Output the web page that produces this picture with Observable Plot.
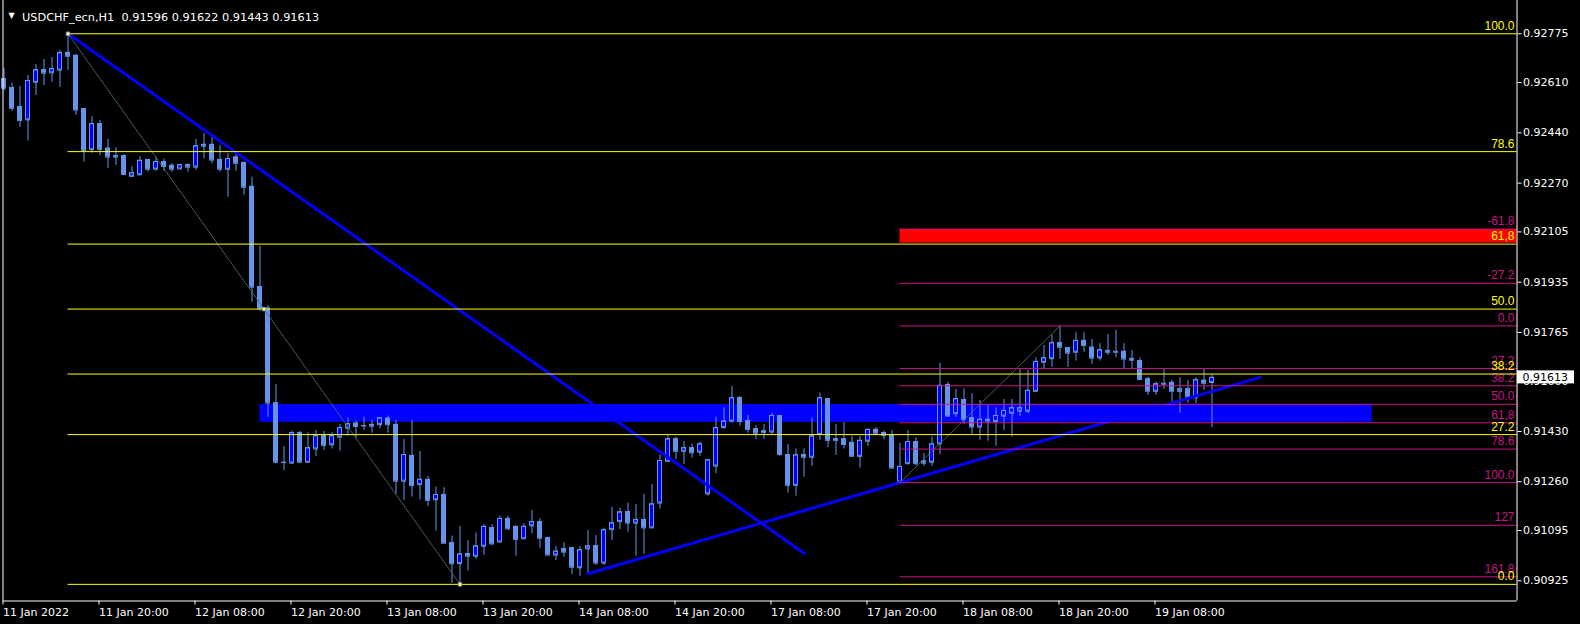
<!DOCTYPE html>
<html><head><meta charset="utf-8">
<script src="https://cdn.jsdelivr.net/npm/d3@7"></script>
<script src="https://cdn.jsdelivr.net/npm/@observablehq/plot@0.6"></script>
<style>html,body{margin:0;padding:0;background:#000;overflow:hidden}</style>
</head><body><div id="chart"></div>
<script>
const symbolName = "USDCHF_ecn,H1";
const opens = [0.92623,0.92593,0.92529,0.92484,0.92611,0.92654,0.92643,0.92652,0.92712,0.92702,
0.92522,0.92383,0.92471,0.92388,0.92363,0.92363,0.92293,0.92298,0.92350,0.92317,
0.92343,0.92330,0.92318,0.92332,0.92324,0.92401,0.92401,0.92350,0.92317,0.92358,
0.92340,0.92259,0.91920,0.91847,0.91527,0.91326,0.91323,0.91426,0.91326,0.91371,
0.91416,0.91385,0.91411,0.91441,0.91458,0.91450,0.91454,0.91453,0.91475,0.91454,
0.91262,0.91349,0.91250,0.91268,0.91199,0.91217,0.91054,0.90983,0.91017,0.91008,
0.91042,0.91105,0.91056,0.91136,0.91109,0.91067,0.91111,0.91125,0.91071,0.91012,
0.91033,0.91037,0.90969,0.91033,0.91044,0.90985,0.91098,0.91125,0.91159,0.91120,
0.91132,0.91104,0.91188,0.91329,0.91405,0.91363,0.91375,0.91360,0.91219,0.91313,
0.91443,0.91465,0.91544,0.91467,0.91439,0.91426,0.91428,0.91484,0.91352,0.91248,
0.91352,0.91343,0.91420,0.91541,0.91405,0.91405,0.91393,0.91346,0.91397,0.91437,
0.91426,0.91419,0.91259,0.91321,0.91396,0.91330,0.91326,0.91388,0.91589,0.91490,
0.91538,0.91477,0.91445,0.91471,0.91464,0.91482,0.91492,0.91499,0.91499,0.91566,
0.91664,0.91676,0.91730,0.91713,0.91698,0.91738,0.91715,0.91679,0.91704,0.91701,
0.91701,0.91677,0.91670,0.91608,0.91566,0.91593,0.91596,0.91566,0.91574,0.91544,
0.91603,0.91596];
const highs = [0.92657,0.92608,0.92597,0.92634,0.92671,0.92688,0.92695,0.92719,0.92775,0.92705,
0.92523,0.92495,0.92482,0.92418,0.92390,0.92366,0.92326,0.92360,0.92350,0.92358,
0.92351,0.92335,0.92334,0.92335,0.92418,0.92438,0.92431,0.92397,0.92370,0.92369,
0.92340,0.92290,0.92056,0.91856,0.91589,0.91379,0.91431,0.91430,0.91426,0.91433,
0.91430,0.91426,0.91454,0.91475,0.91467,0.91478,0.91467,0.91477,0.91482,0.91467,
0.91403,0.91467,0.91362,0.91278,0.91242,0.91240,0.91076,0.91109,0.91061,0.91087,
0.91115,0.91115,0.91144,0.91143,0.91110,0.91118,0.91163,0.91135,0.91072,0.91041,
0.91054,0.91037,0.91041,0.91095,0.91078,0.91103,0.91174,0.91171,0.91188,0.91183,
0.91217,0.91251,0.91350,0.91416,0.91411,0.91396,0.91388,0.91394,0.91335,0.91478,
0.91510,0.91582,0.91548,0.91484,0.91450,0.91454,0.91492,0.91485,0.91386,0.91371,
0.91371,0.91476,0.91560,0.91541,0.91454,0.91460,0.91413,0.91413,0.91439,0.91443,
0.91431,0.91433,0.91390,0.91433,0.91409,0.91355,0.91411,0.91661,0.91596,0.91572,
0.91574,0.91558,0.91535,0.91521,0.91510,0.91538,0.91538,0.91639,0.91636,0.91679,
0.91721,0.91755,0.91787,0.91713,0.91764,0.91764,0.91741,0.91727,0.91758,0.91772,
0.91727,0.91704,0.91679,0.91614,0.91597,0.91640,0.91603,0.91612,0.91603,0.91612,
0.91641,0.91622];
const lows = [0.92581,0.92513,0.92459,0.92412,0.92566,0.92600,0.92611,0.92594,0.92651,0.92499,
0.92341,0.92371,0.92363,0.92320,0.92330,0.92299,0.92290,0.92296,0.92307,0.92310,
0.92310,0.92307,0.92316,0.92307,0.92313,0.92352,0.92335,0.92307,0.92222,0.92310,
0.92229,0.91867,0.91837,0.91478,0.91321,0.91298,0.91318,0.91326,0.91323,0.91345,
0.91366,0.91371,0.91363,0.91414,0.91405,0.91433,0.91424,0.91439,0.91424,0.91217,
0.91197,0.91208,0.91199,0.91176,0.91093,0.91051,0.90916,0.90913,0.90958,0.90997,
0.91011,0.91044,0.91054,0.91095,0.91008,0.91065,0.91084,0.91035,0.91011,0.90994,
0.91005,0.90946,0.90940,0.90949,0.90977,0.90977,0.91061,0.91098,0.91089,0.91008,
0.91014,0.91103,0.91167,0.91326,0.91335,0.91318,0.91340,0.91346,0.91211,0.91287,
0.91439,0.91458,0.91448,0.91424,0.91403,0.91403,0.91420,0.91346,0.91221,0.91211,
0.91275,0.91312,0.91400,0.91375,0.91349,0.91371,0.91345,0.91306,0.91380,0.91422,
0.91402,0.91305,0.91257,0.91317,0.91313,0.91312,0.91312,0.91352,0.91478,0.91478,
0.91454,0.91420,0.91400,0.91397,0.91380,0.91433,0.91411,0.91481,0.91490,0.91563,
0.91642,0.91647,0.91674,0.91647,0.91668,0.91698,0.91657,0.91668,0.91687,0.91679,
0.91642,0.91642,0.91602,0.91552,0.91552,0.91572,0.91529,0.91492,0.91526,0.91524,
0.91569,0.91443];
const closes = [0.92591,0.92523,0.92482,0.92617,0.92653,0.92642,0.92657,0.92711,0.92699,0.92517,
0.92380,0.92471,0.92384,0.92358,0.92358,0.92299,0.92305,0.92347,0.92317,0.92343,
0.92326,0.92317,0.92332,0.92324,0.92396,0.92395,0.92348,0.92317,0.92353,0.92337,
0.92256,0.91918,0.91845,0.91526,0.91326,0.91325,0.91426,0.91326,0.91375,0.91416,
0.91383,0.91416,0.91443,0.91456,0.91447,0.91449,0.91448,0.91476,0.91453,0.91262,
0.91352,0.91247,0.91268,0.91197,0.91217,0.91052,0.90983,0.91016,0.91008,0.91043,
0.91109,0.91050,0.91136,0.91101,0.91065,0.91109,0.91125,0.91069,0.91012,0.91025,
0.91022,0.90971,0.91030,0.91043,0.90985,0.91098,0.91121,0.91158,0.91120,0.91132,
0.91104,0.91185,0.91332,0.91405,0.91363,0.91375,0.91358,0.91388,0.91334,0.91443,
0.91465,0.91544,0.91464,0.91437,0.91424,0.91432,0.91484,0.91352,0.91248,0.91351,
0.91343,0.91415,0.91544,0.91400,0.91400,0.91386,0.91346,0.91400,0.91437,0.91424,
0.91416,0.91306,0.91312,0.91396,0.91321,0.91323,0.91388,0.91586,0.91482,0.91541,
0.91471,0.91445,0.91471,0.91465,0.91484,0.91501,0.91510,0.91510,0.91569,0.91667,
0.91679,0.91730,0.91715,0.91695,0.91738,0.91721,0.91678,0.91706,0.91698,0.91698,
0.91675,0.91671,0.91606,0.91566,0.91591,0.91590,0.91566,0.91574,0.91546,0.91605,
0.91593,0.91613];

const xTickLabels = ["11 Jan 2022","11 Jan 20:00","12 Jan 08:00","12 Jan 20:00","13 Jan 08:00","13 Jan 20:00","14 Jan 08:00","14 Jan 20:00","17 Jan 08:00","17 Jan 20:00","18 Jan 08:00","18 Jan 20:00","19 Jan 08:00"];
const barsPerXTick = 12;
const yTickValues = [0.92775,0.92610,0.92440,0.92270,0.92105,0.91935,0.91765,0.91600,0.91430,0.91260,0.91095,0.90925];

const yellowFibLevels = [0, 27.2, 38.2, 50, 61.8, 78.6, 100];
const yellowFibLabels = ["0.0","27.2","38.2","50.0","61,8","78.6","100.0"];
const yellowFibFrom = {bar: 57, price: 0.90913};   // 0.0
const yellowFibTo   = {bar: 8,  price: 0.92775};   // 100.0

// the lowest magenta line sits slightly above the true 161.8 ratio in the picture
const pinkFibLevels = [-61.8, -27.2, 0, 27.2, 38.2, 50, 61.8, 78.6, 100, 127.2, 160.1];
const pinkFibLabels = ["-61.8","-27.2","0.0","27.2","38.2","50.0","61,8","78.6","100.0","127","161.8"];
const pinkFibFrom = {bar: 132, price: 0.91787};    // 0.0
const pinkFibTo   = {bar: 112, price: 0.91257};    // 100.0

const downTrend = [{bar: 8, price: 0.92775}, {bar: 100, price: 0.91018}];
const upTrend   = [{bar: 73, price: 0.90949}, {bar: 157, price: 0.91613}];
const blueZone = [{from: 32, to: 171, top: 0.91521, bottom: 0.91461}];
const redZone  = [{from: 112, top: 0.92113, bottom: 0.92067}];

// ---- layout constants ----
const xDomain = [-0.125, 189.125];
const yDomain = [0.908567, 0.928876];
const bullFill = "#0000FF", barColor = "#6495ED";
const yellow = "#FFFF00", pink = "#C71585";
const half = 0.3125;

const candles = opens.map((o, i) => ({i, open: o, high: highs[i], low: lows[i], close: closes[i]}));
const last = candles[candles.length - 1];

const yellowFib = yellowFibLevels.map((l, k) => ({label: yellowFibLabels[k], start: Math.min(yellowFibFrom.bar, yellowFibTo.bar),
  price: yellowFibFrom.price + l / 100 * (yellowFibTo.price - yellowFibFrom.price)}));
const pinkFib = pinkFibLevels.map((l, k) => ({label: pinkFibLabels[k], start: Math.min(pinkFibFrom.bar, pinkFibTo.bar),
  price: pinkFibFrom.price + l / 100 * (pinkFibTo.price - pinkFibFrom.price)}));
const fibDiag = [
  [{bar: yellowFibTo.bar, price: yellowFibTo.price}, {bar: yellowFibFrom.bar, price: yellowFibFrom.price}],
  [{bar: pinkFibTo.bar, price: pinkFibTo.price}, {bar: pinkFibFrom.bar, price: pinkFibFrom.price}]
];
const markers = [yellowFibTo, {bar: (yellowFibTo.bar + yellowFibFrom.bar) / 2, price: (yellowFibTo.price + yellowFibFrom.price) / 2}, yellowFibFrom];

const title = `${symbolName}\u00a0\u00a0${last.open.toFixed(5)} ${last.high.toFixed(5)} ${last.low.toFixed(5)} ${last.close.toFixed(5)}`;
const fibFont = "Liberation Sans, Arial, sans-serif";

const chart = Plot.plot({
  width: 1580, height: 624,
  marginLeft: 2.5, marginRight: 63.5, marginTop: 0, marginBottom: 23.5,
  style: {background: "#000", color: "#fff", fontFamily: "DejaVu Sans, sans-serif", fontSize: "11px"},
  x: {domain: xDomain},
  y: {domain: yDomain},
  marks: [
    Plot.rect(blueZone, {x1: "from", x2: "to", y1: "bottom", y2: "top", fill: "#0000FF"}),
    Plot.rect(redZone, {x1: "from", x2: () => xDomain[1], y1: "bottom", y2: "top", fill: "#FF0000"}),
    Plot.ruleX(candles, {x: "i", y1: "low", y2: "high", stroke: barColor, strokeWidth: 1}),
    Plot.rect(candles, {x1: d => d.i - half, x2: d => d.i + half, y1: "open", y2: "close",
      fill: d => d.close >= d.open ? bullFill : barColor, stroke: barColor, strokeWidth: 1, inset: 0.5}),
    Plot.ruleY(candles, {y: "open", x1: d => d.i - half, x2: d => d.i + half, stroke: barColor}),
    Plot.ruleY(candles, {y: "close", x1: d => d.i - half, x2: d => d.i + half, stroke: barColor}),
    Plot.line(downTrend, {x: "bar", y: "price", stroke: "#0000FF", strokeWidth: 3}),
    Plot.line(upTrend, {x: "bar", y: "price", stroke: "#0000FF", strokeWidth: 3}),
    ...fibDiag.map(seg => Plot.line(seg, {x: "bar", y: "price", stroke: "#46696A", strokeWidth: 1, strokeDasharray: "2,1"})),
    Plot.ruleY(pinkFib, {y: "price", x1: "start", x2: () => xDomain[1], stroke: pink, strokeWidth: 1}),
    Plot.text(pinkFib, {x: () => xDomain[1], y: "price", text: "label", textAnchor: "end", lineAnchor: "bottom",
      dx: -2.5, dy: -4, fill: pink, fontFamily: fibFont, fontSize: 12}),
    Plot.ruleY(yellowFib, {y: "price", x1: "start", x2: () => xDomain[1], stroke: yellow, strokeWidth: 1}),
    Plot.text(yellowFib, {x: () => xDomain[1], y: "price", text: "label", textAnchor: "end", lineAnchor: "bottom",
      dx: -2.5, dy: -4, fill: yellow, fontFamily: fibFont, fontSize: 12}),
    Plot.dot(markers, {x: "bar", y: "price", symbol: "square", r: 2, fill: "#ffffc0", stroke: "#888", strokeWidth: 1}),
    Plot.ruleX([xDomain[0], xDomain[1]], {stroke: "#fff"}),
    Plot.ruleY([yDomain[0]], {stroke: "#fff"}),
    Plot.axisY(yTickValues, {anchor: "right", tickSize: 4, tickPadding: 2, tickFormat: d => d.toFixed(5),
      color: "#fff", fontSize: 11, label: null}),
    Plot.axisX(xTickLabels.map((_, k) => k * barsPerXTick), {anchor: "bottom", tickSize: 4, tickPadding: 3,
      tickFormat: d => xTickLabels[d / barsPerXTick], textAnchor: "start", dx: -1, color: "#fff", fontSize: 11, label: null}),
    Plot.text([title], {frameAnchor: "top-left", dx: 19, dy: 12, textAnchor: "start", fill: "#fff", fontSize: 11.3}),
    Plot.text(["\u25BC"], {frameAnchor: "top-left", dx: 8.5, dy: 12, textAnchor: "middle", fill: "#fff", fontSize: 8})
  ]
});

// current price label on the price axis
const svg = d3.select(chart);
const yPos = chart.scale("y").apply(last.close);
const xPos = chart.scale("x").apply(xDomain[1]);
const g = svg.append("g").attr("text-anchor", "start");
g.append("rect").attr("x", xPos + 0.5).attr("y", yPos - 6.5).attr("width", 57).attr("height", 13).attr("fill", "#fff");
g.append("text").attr("x", xPos + 6).attr("y", yPos).attr("dy", "0.35em").attr("fill", "#000")
  .attr("text-anchor", "start")
  .attr("font-family", "DejaVu Sans, sans-serif").attr("font-size", 11).text(last.close.toFixed(5));

document.getElementById("chart").append(chart);
</script>
</body></html>
